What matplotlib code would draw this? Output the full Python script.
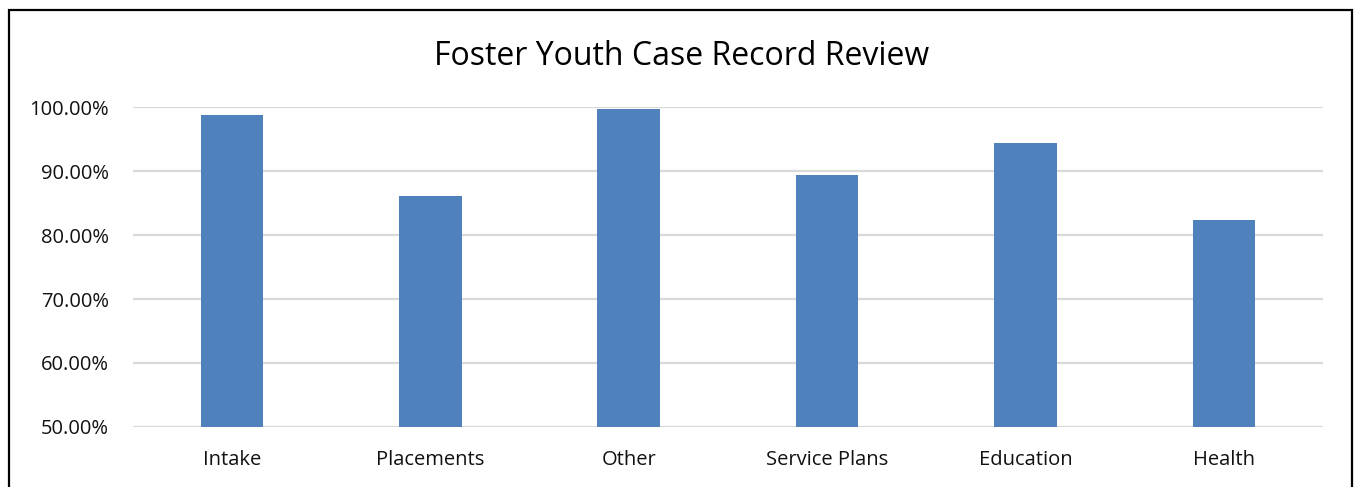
import matplotlib.pyplot as plt
from matplotlib.patches import Rectangle
from matplotlib.ticker import FuncFormatter, MultipleLocator

categories = ["Intake", "Placements", "Other", "Service Plans", "Education", "Health"]
rates = [98.8, 86.1, 99.7, 89.4, 94.5, 82.4]

BAR = "#4F81BD"
GRID = "#D9D9D9"
INK = "#000000"
FONT = "Open Sans"

fig = plt.figure(figsize=(13.56, 4.87), dpi=100)
ax = fig.add_axes([0.0979, 0.1238, 0.8778, 0.6555])

x = range(len(categories))
ax.bar(x, rates, width=0.315, color=BAR, zorder=3)

ax.set_xlim(-0.5, len(categories) - 0.5)
ax.set_ylim(50, 100)
ax.yaxis.set_major_locator(MultipleLocator(10))
ax.yaxis.set_major_formatter(FuncFormatter(lambda v, _: f"{v:.2f}%"))
ax.yaxis.grid(True, color=GRID, lw=1.6, zorder=0)
ax.set_axisbelow(True)

ax.set_xticks(list(x))
ax.set_xticklabels(categories)
ax.tick_params(axis="both", length=0, labelsize=14.5, labelcolor="#111111")
ax.tick_params(axis="y", pad=17)
ax.tick_params(axis="x", pad=16.5)
for lab in ax.get_xticklabels() + ax.get_yticklabels():
    lab.set_fontfamily(FONT)
for s in ax.spines.values():
    s.set_visible(False)

fig.text(0.5025, 0.883, "Foster Youth Case Record Review", ha="center", va="center",
         fontsize=23, family=FONT, color=INK)

# chart frame (bottom edge falls outside the canvas)
fig.patches.append(Rectangle((9 / 1356, -0.05), (1352 - 9) / 1356, 1.05 - 10 / 487,
                             transform=fig.transFigure, fill=False,
                             edgecolor=INK, lw=1.6))

fig.savefig("out.png", dpi=100)
